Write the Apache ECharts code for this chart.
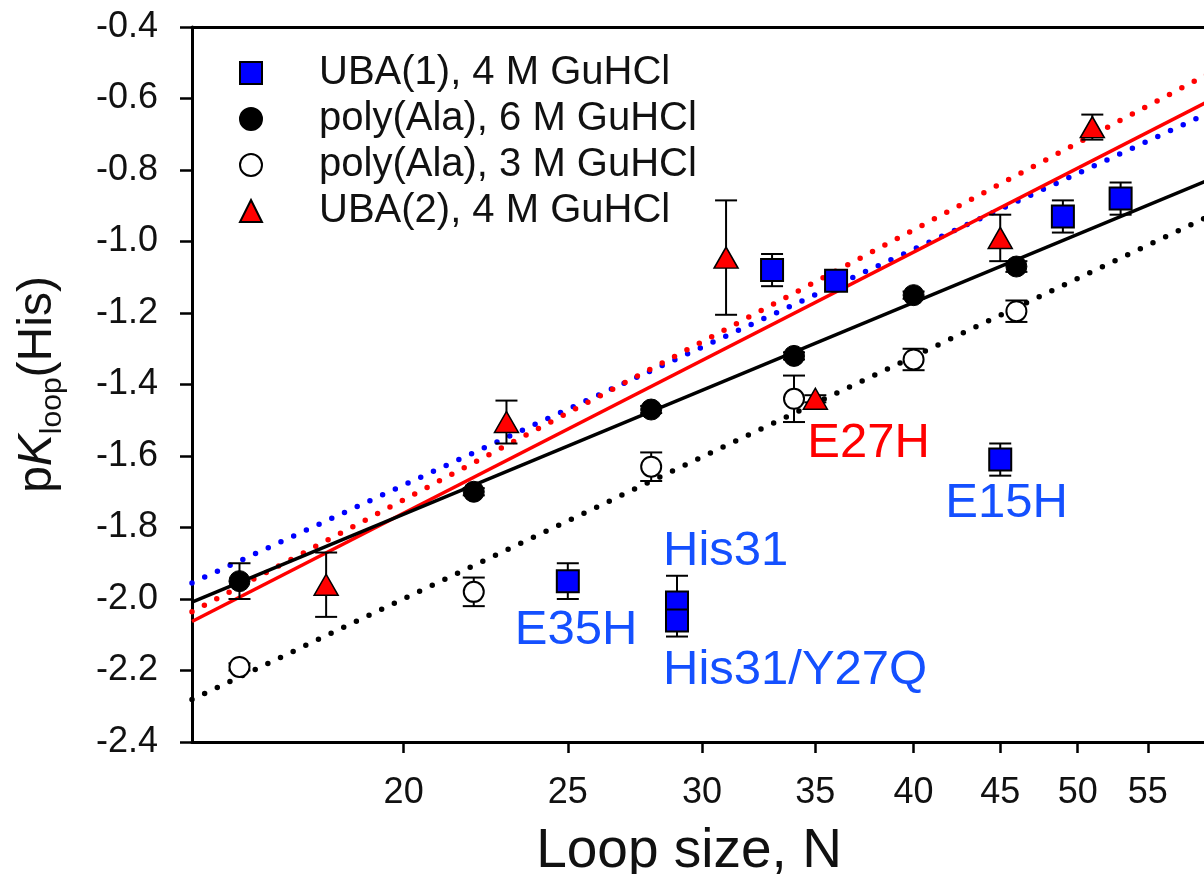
<!DOCTYPE html>
<html><head><meta charset="utf-8">
<script src="https://cdn.jsdelivr.net/npm/echarts@6/dist/echarts.min.js"></script>
<style>html,body{margin:0;padding:0;background:#fff}#c{width:1204px;height:874px}</style>
</head><body><div id="c"></div>
<script>
// ---- axis ticks ----
const xTickValues = [20, 25, 30, 35, 40, 45, 50, 55];
const xRange = [15, 62];
const yRange = [-2.4, -0.4];
const yStep = 0.2;

// ---- UBA(1), 4 M GuHCl ----
const uba1N      = [25, 29, 29, 33, 36, 45, 49, 53];
const uba1pK     = [-1.95, -2.01, -2.06, -1.08, -1.11, -1.61, -0.93, -0.88];
const uba1Err    = [0.05, 0.075, 0.045, 0.045, 0.01, 0.045, 0.045, 0.045];
const uba1Labels = ['E35H', 'His31', 'His31/Y27Q', '', '', 'E15H', '', ''];

// ---- poly(Ala), 6 M GuHCl ----
const ala6N   = [16, 22, 28, 34, 40, 46];
const ala6pK  = [-1.95, -1.70, -1.47, -1.32, -1.15, -1.07];
const ala6Err = [0.05, 0.01, 0.01, 0.01, 0.01, 0.015];

// ---- poly(Ala), 3 M GuHCl ----
const ala3N   = [16, 22, 28, 34, 40, 46];
const ala3pK  = [-2.19, -1.98, -1.63, -1.44, -1.33, -1.195];
const ala3Err = [0.01, 0.04, 0.04, 0.065, 0.03, 0.03];

// ---- UBA(2), 4 M GuHCl ----
const uba2N      = [18, 23, 31, 35, 45, 51];
const uba2pK     = [-1.96, -1.505, -1.045, -1.44, -0.99, -0.68];
const uba2Err    = [0.09, 0.06, 0.16, 0.01, 0.065, 0.035];
const uba2Labels = ['', '', '', 'E27H', '', ''];

// ---- fit lines (values at N = 15 and N = 62) ----
const fitN          = [15, 62];
const fitUba1       = [-1.955, -0.605];
const fitUba2Dotted = [-2.036, -0.490];
const fitUba2Solid  = [-2.063, -0.568];
const fitAla6       = [-2.009, -0.796];
const fitAla3       = [-2.281, -0.893];

// ---- styles ----
const FONT = "'Liberation Sans', Arial, sans-serif";
const BLUE_TEXT = '#1450ff';
const labelOffsets = {
  'E35H': [-53, 49], 'His31': [-14, -51], 'His31/Y27Q': [-14, 50],
  'E15H': [-55, 44], 'E27H': [-8, 45]
};

const lg = Math.log10;

function points(Ns, vals, labels, color) {
  return Ns.map((n, i) => {
    const item = { value: [lg(n), vals[i]] };
    if (labels && labels[i]) {
      item.label = {
        show: true, formatter: labels[i], position: 'inside',
        align: 'left', verticalAlign: 'middle', offset: labelOffsets[labels[i]],
        fontSize: 49, fontFamily: FONT, color: color
      };
    }
    return item;
  });
}

function errSeries(Ns, vals, errs) {
  return {
    type: 'custom', z: 3, silent: true, encode: { x: 0, y: 1 },
    data: Ns.map((n, i) => [lg(n), vals[i], errs[i]]),
    renderItem: function (params, api) {
      const x = api.value(0), y = api.value(1), e = api.value(2);
      const t = api.coord([x, y + e]), b = api.coord([x, y - e]);
      const hw = 11, st = { stroke: '#000', lineWidth: 2 };
      return { type: 'group', children: [
        { type: 'line', shape: { x1: t[0], y1: t[1], x2: b[0], y2: b[1] }, style: st },
        { type: 'line', shape: { x1: t[0] - hw, y1: t[1], x2: t[0] + hw, y2: t[1] }, style: st },
        { type: 'line', shape: { x1: b[0] - hw, y1: b[1], x2: b[0] + hw, y2: b[1] }, style: st }
      ]};
    }
  };
}

function fitLine(vals, color, dotted) {
  return {
    type: 'line', z: 2, silent: true, symbol: 'none', animation: false,
    data: fitN.map((n, i) => [lg(n), vals[i]]),
    lineStyle: dotted
      ? { color: color, width: 5.5, type: [0, 14], cap: 'round' }
      : { color: color, width: 3.5 }
  };
}

const chart = echarts.init(document.getElementById('c'));
chart.setOption({
  animation: false,
  backgroundColor: '#fff',
  grid: { left: 192, top: 27, width: 1044, height: 715, outerBoundsMode: 'none', containLabel: false },
  legend: {
    orient: 'vertical', left: 234, top: 48, itemGap: 6,
    itemWidth: 22, itemHeight: 22,
    textStyle: { fontSize: 40, fontFamily: FONT, color: '#111', lineHeight: 40, padding: [0, 0, 0, 52] },
    data: ['UBA(1), 4 M GuHCl', 'poly(Ala), 6 M GuHCl', 'poly(Ala), 3 M GuHCl', 'UBA(2), 4 M GuHCl']
  },
  xAxis: [{
    type: 'value', min: lg(xRange[0]), max: lg(xRange[1]),
    name: 'Loop size, N', nameLocation: 'middle', nameGap: 82,
    nameTextStyle: { fontSize: 55, fontFamily: FONT, color: '#111', lineHeight: 55, padding: [0, 50, 0, 0] },
    axisLine: { lineStyle: { color: '#000', width: 3 } },
    axisTick: { show: true, length: 11, lineStyle: { color: '#000', width: 2.5 }, customValues: xTickValues.map(lg) },
    axisLabel: { margin: 33, fontSize: 36, fontFamily: FONT, color: '#111', lineHeight: 36,
      customValues: xTickValues.map(lg), formatter: v => String(Math.round(Math.pow(10, v))) },
    splitLine: { show: false }
  }, {
    type: 'value', position: 'top', min: lg(xRange[0]), max: lg(xRange[1]),
    axisLine: { show: true, lineStyle: { color: '#000', width: 3 } },
    axisTick: { show: false }, axisLabel: { show: false }, splitLine: { show: false }
  }],
  yAxis: {
    type: 'value', min: yRange[0], max: yRange[1], interval: yStep,
    name: '{p|p}{k|K}{s|loop}{p|(His)}', nameLocation: 'middle', nameGap: 124,
    nameTextStyle: { rich: {
      p: { fontSize: 48, fontFamily: FONT, color: '#111', lineHeight: 60 },
      k: { fontSize: 48, fontFamily: FONT, color: '#111', fontStyle: 'italic', lineHeight: 60 },
      s: { fontSize: 30, fontFamily: FONT, color: '#111', lineHeight: 30, verticalAlign: 'bottom' }
    } },
    axisLine: { show: true, lineStyle: { color: '#000', width: 3 } },
    axisTick: { show: true, length: 12, lineStyle: { color: '#000', width: 2.5 } },
    axisLabel: { margin: 34, fontSize: 36, fontFamily: FONT, color: '#111', formatter: v => v.toFixed(1) },
    splitLine: { show: false }
  },
  series: [
    fitLine(fitUba1, '#0000ff', true),
    fitLine(fitUba2Dotted, '#ff0000', true),
    fitLine(fitUba2Solid, '#ff0000', false),
    fitLine(fitAla6, '#000000', false),
    fitLine(fitAla3, '#000000', true),
    errSeries(uba1N, uba1pK, uba1Err),
    errSeries(ala6N, ala6pK, ala6Err),
    errSeries(ala3N, ala3pK, ala3Err),
    errSeries(uba2N, uba2pK, uba2Err),
    { name: 'UBA(1), 4 M GuHCl', type: 'scatter', z: 4, symbol: 'rect', symbolSize: 22,
      itemStyle: { color: '#0000ff', borderColor: '#000', borderWidth: 2, opacity: 1 },
      data: points(uba1N, uba1pK, uba1Labels, BLUE_TEXT) },
    { name: 'poly(Ala), 6 M GuHCl', type: 'scatter', z: 4, symbol: 'circle', symbolSize: 21,
      itemStyle: { color: '#000', borderColor: '#000', borderWidth: 1, opacity: 1 },
      data: points(ala6N, ala6pK) },
    { name: 'poly(Ala), 3 M GuHCl', type: 'scatter', z: 4, symbol: 'circle', symbolSize: 20,
      itemStyle: { color: '#fff', borderColor: '#000', borderWidth: 2, opacity: 1 },
      data: points(ala3N, ala3pK) },
    { name: 'UBA(2), 4 M GuHCl', type: 'scatter', z: 4, symbol: 'triangle', symbolSize: [24, 21],
      itemStyle: { color: '#ff0000', borderColor: '#000', borderWidth: 1.5, opacity: 1 },
      data: points(uba2N, uba2pK, uba2Labels, '#ff0000') }
  ]
});
</script></body></html>
